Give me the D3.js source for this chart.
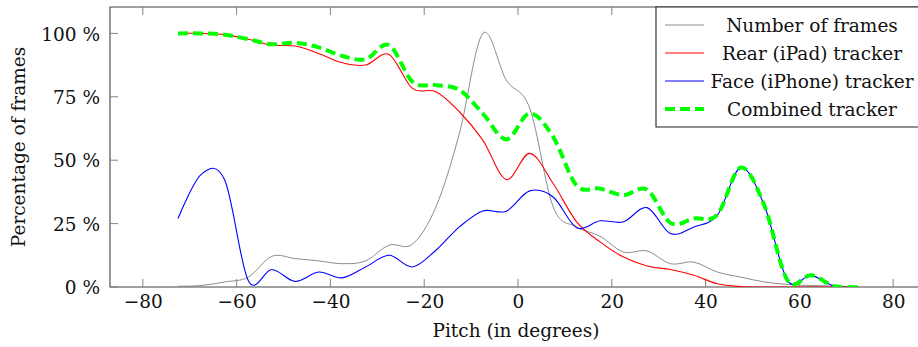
<!DOCTYPE html>
<html>
<head>
<meta charset="utf-8">
<script src="https://cdn.jsdelivr.net/npm/d3@7"></script>
<style>
  html, body { margin: 0; padding: 0; background: #fff; }
  svg { display: block; }
</style>
</head>
<body>
<div id="chart"></div>
<script>
const width = 918;
const height = 347;
const margin = { top: 7, right: 0, bottom: 60, left: 110 };
const fontFamily = "'DejaVu Serif', serif";
const fontSize = 18.5;

// pitch bins (degrees)
const pitch = [-72.5, -67.5, -62.5, -57.5, -52.5, -47.5, -42.5, -37.5, -32.5, -27.5,
               -22.5, -17.5, -12.5, -7.5, -2.5, 2.5, 7.5, 12.5, 17.5, 22.5,
               27.5, 32.5, 37.5, 42.5, 47.5, 52.5, 57.5, 62.5, 67.5, 72.5];

const frames   = [0.3, 0.6, 2.0, 3.9, 12.1, 11.2, 10.3, 9.2, 10.3, 16.5,
                  16.9, 31.6, 60.5, 100, 81.6, 70.5, 31.6, 23.7, 20.0, 13.8,
                  14.2, 9.2, 9.8, 5.9, 3.9, 2.0, 1.0, 0.6, 0.3, 0.1];
const rear     = [100, 100, 99.5, 97.7, 95.4, 95.0, 92.1, 88.4, 87.5, 91.7,
                  78.3, 77.0, 69.1, 57.9, 42.4, 52.7, 40.8, 25.7, 17.8, 11.8,
                  8.3, 6.9, 4.6, 1.3, 0.2, 0, 0, 0, 0, 0];
const face     = [27.0, 44.5, 42.0, 2.5, 6.9, 2.2, 5.9, 3.6, 7.9, 12.5,
                  7.9, 14.5, 23.7, 30.0, 29.9, 37.9, 35.5, 23.4, 26.1, 25.7,
                  31.3, 21.1, 23.7, 28.3, 47.1, 32.3, 2.5, 4.6, 0.3, 0];
const combined = [100, 100, 99.5, 97.7, 95.7, 96.3, 94.5, 91.1, 89.8, 95.4,
                  80.9, 79.6, 77.7, 68.4, 58.2, 68.4, 59.2, 40.0, 38.8, 36.2,
                  38.4, 25.3, 27.0, 28.5, 47.1, 32.3, 2.5, 4.6, 0.3, 0];

const xTicks = [-80, -60, -40, -20, 0, 20, 40, 60, 80];
const yTicks = [0, 25, 50, 75, 100];

const seriesNames = ["Number of frames", "Rear (iPad) tracker", "Face (iPhone) tracker", "Combined tracker"];

const styles = [
  { color: "#7f7f7f", w: 0.9, dash: null },
  { color: "#ff0000", w: 1.1, dash: null },
  { color: "#0000ff", w: 1.1, dash: null },
  { color: "#00ff00", w: 4, dash: "10,5" }
];

const innerWidth = width - margin.left - margin.right;   // visible part of the axis
const innerHeight = height - margin.top - margin.bottom;

const svg = d3.select("#chart").append("svg")
  .attr("width", width)
  .attr("height", height)
  .style("font-family", fontFamily);

const g = svg.append("g").attr("transform", `translate(${margin.left},${margin.top})`);

// the axis box is a little wider than the picture: x = 87 sits 8px past the edge
const xScale = d3.scaleLinear().domain([-87, 87]).range([0, innerWidth + 8]);
const yScale = d3.scaleLinear().domain([0, 110.4]).range([innerHeight, 0]);

// frame (left, bottom, top; right side is outside the picture)
g.append("path")
  .attr("d", `M${innerWidth},0H0V${innerHeight}H${innerWidth}`)
  .attr("fill", "none").attr("stroke", "#444").attr("stroke-width", 1.1);

// ticks (inside, bottom + top, left)
const tickLen = 8;
xTicks.forEach(t => {
  g.append("line").attr("x1", xScale(t)).attr("x2", xScale(t))
    .attr("y1", innerHeight).attr("y2", innerHeight - tickLen)
    .attr("stroke", "#777").attr("stroke-width", 0.9);
  g.append("line").attr("x1", xScale(t)).attr("x2", xScale(t))
    .attr("y1", 0).attr("y2", tickLen)
    .attr("stroke", "#777").attr("stroke-width", 0.9);
});
yTicks.forEach(t => {
  g.append("line").attr("x1", 0).attr("x2", tickLen)
    .attr("y1", yScale(t)).attr("y2", yScale(t))
    .attr("stroke", "#777").attr("stroke-width", 0.9);
});

const xAxis = d3.axisBottom(xScale).tickValues(xTicks).tickSize(0).tickPadding(0)
  .tickFormat(d => d < 0 ? "\u2212" + Math.abs(d) : d);
const gx = g.append("g").attr("transform", `translate(0,${innerHeight})`).call(xAxis);
gx.attr("font-family", null).attr("font-size", null);
gx.select(".domain").remove();
gx.selectAll("text").attr("font-size", fontSize).attr("fill", "#111").attr("dy", null).attr("y", 21);

const yAxis = d3.axisLeft(yScale).tickValues(yTicks).tickSize(0).tickPadding(10)
  .tickFormat(d => d + " %");
const gy = g.append("g").call(yAxis);
gy.attr("font-family", null).attr("font-size", null);
gy.select(".domain").remove();
gy.selectAll("text").attr("font-size", fontSize).attr("fill", "#111").attr("dy", "0.36em");

// axis titles
svg.append("text")
  .attr("x", 516).attr("y", 337)
  .attr("text-anchor", "middle")
  .attr("font-size", fontSize)
  .attr("fill", "#111")
  .text("Pitch (in degrees)");
svg.append("text")
  .attr("transform", `translate(25,${margin.top + innerHeight / 2}) rotate(-90)`)
  .attr("text-anchor", "middle")
  .attr("font-size", fontSize)
  .attr("fill", "#111")
  .text("Percentage of frames");

// lines
const allSeries = [frames, rear, face, combined];
const line = d3.line()
  .x((d, i) => xScale(pitch[i]))
  .y(d => yScale(d))
  .curve(d3.curveCardinal.tension(0));

svg.append("defs").append("clipPath").attr("id", "plotclip")
  .append("rect").attr("width", innerWidth).attr("height", innerHeight);

const lines = g.append("g").attr("clip-path", "url(#plotclip)");
allSeries.forEach((s, k) => {
  lines.append("path")
    .datum(s)
    .attr("d", line)
    .attr("fill", "none")
    .attr("stroke", styles[k].color)
    .attr("stroke-width", styles[k].w)
    .attr("stroke-dasharray", styles[k].dash);
});

// legend (its right edge is also cut by the picture border)
const legend = svg.append("g").attr("transform", "translate(656,7)");
legend.append("path")
  .attr("d", "M262,0H0V120H262")
  .attr("fill", "#fff").attr("stroke", "#222").attr("stroke-width", 1.1);
seriesNames.forEach((name, k) => {
  const cy = 18 + k * 28;
  legend.append("line")
    .attr("x1", 9).attr("x2", 48)
    .attr("y1", cy).attr("y2", cy)
    .attr("stroke", styles[k].color)
    .attr("stroke-width", styles[k].w)
    .attr("stroke-dasharray", styles[k].dash);
  legend.append("text")
    .attr("x", 156).attr("y", cy)
    .attr("dy", "0.36em")
    .attr("text-anchor", "middle")
    .attr("font-size", fontSize)
    .attr("fill", "#111")
    .text(name);
});
</script>
</body>
</html>
